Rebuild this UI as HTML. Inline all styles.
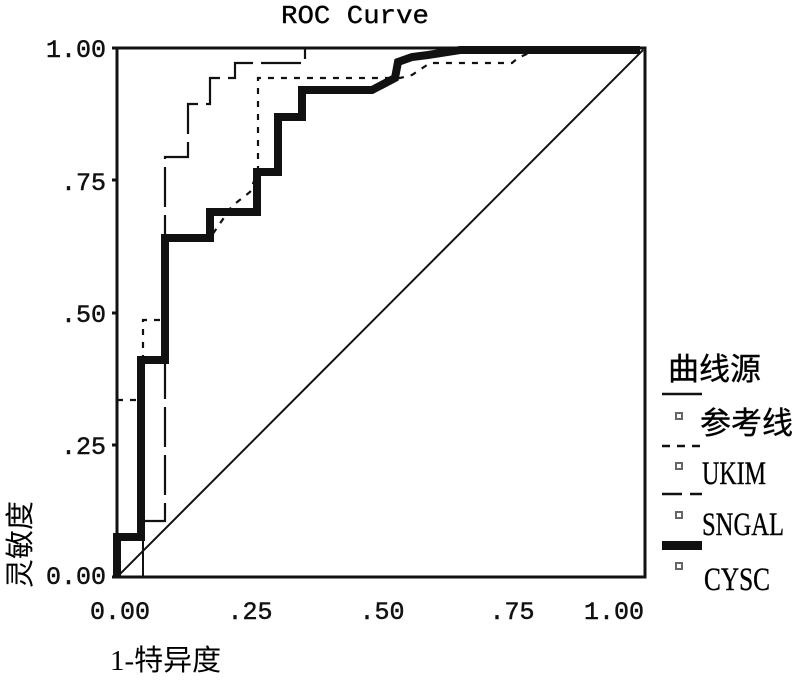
<!DOCTYPE html>
<html><head><meta charset="utf-8"><style>html,body{margin:0;padding:0;background:#fff}</style></head>
<body>
<svg width="797" height="676" viewBox="0 0 797 676" xmlns="http://www.w3.org/2000/svg" font-family="Liberation Serif, 'Noto Serif CJK SC', serif">
<rect width="797" height="676" fill="#fff"/>
<text x="355" y="23" font-size="26" text-anchor="middle" font-family="Liberation Mono, monospace" textLength="148" lengthAdjust="spacingAndGlyphs" stroke="#111" stroke-width="0.4">ROC Curve</text>
<rect x="117" y="48" width="528" height="529" fill="none" stroke="#111" stroke-width="3"/>
<g stroke="#111" stroke-width="3">
<line x1="112" y1="48" x2="117" y2="48"/><line x1="112" y1="180" x2="117" y2="180"/><line x1="112" y1="313" x2="117" y2="313"/><line x1="112" y1="445" x2="117" y2="445"/><line x1="112" y1="577" x2="117" y2="577"/>
</g>
<g font-family="Liberation Mono, monospace" font-size="25" fill="#111" stroke="#111" stroke-width="0.5">
<text x="106" y="57" text-anchor="end">1.00</text>
<text x="106" y="190" text-anchor="end">.75</text>
<text x="106" y="322" text-anchor="end">.50</text>
<text x="106" y="454" text-anchor="end">.25</text>
<text x="106" y="584" text-anchor="end">0.00</text>
<text x="120" y="619" text-anchor="middle">0.00</text>
<text x="250" y="619" text-anchor="middle">.25</text>
<text x="382" y="619" text-anchor="middle">.50</text>
<text x="512" y="619" text-anchor="middle">.75</text>
<text x="614" y="619" text-anchor="middle">1.00</text>
</g>
<text x="110" y="670" font-size="29" font-family="Liberation Serif, 'Noto Sans CJK SC', sans-serif">1-特异度</text>
<text transform="translate(30,588) rotate(-90)" font-size="29" font-family="Liberation Serif, 'Noto Sans CJK SC', sans-serif">灵敏度</text>
<line x1="117" y1="577" x2="643" y2="50" stroke="#111" stroke-width="2"/>
<polyline points="117,537 143,537 143,577" fill="none" stroke="#111" stroke-width="2"/>
<polyline points="117,400 143,400 143,320 165,320 165,238 210,238 232,206 250,192 258,170 258,78 400,78 412,75 430,63 512,63 518,58 540,48" fill="none" stroke="#111" stroke-width="2.2" stroke-dasharray="6,7"/>
<polyline points="143,521 165,521 165,157 188,157 188,104 210,104 210,78 235,78 235,63 305,63 305,48" fill="none" stroke="#111" stroke-width="2.2" stroke-dasharray="40,8"/>
<polyline points="117,577 117,537 141,537 141,360 165,360 165,238 210,238 210,212 257,212 257,172 278,172 278,117 302,117 302,90 372,90 395,78 398,62 412,57 428,55 460,50 640,50" fill="none" stroke="#111" stroke-width="8" stroke-linejoin="miter"/>
<text x="668" y="380" font-size="31" font-family="Liberation Serif, 'Noto Sans CJK SC', sans-serif" stroke="#111" stroke-width="0.4">曲线源</text>
<line x1="662" y1="394" x2="702" y2="394" stroke="#111" stroke-width="2.5"/>
<line x1="662" y1="446" x2="702" y2="446" stroke="#111" stroke-width="2.5" stroke-dasharray="8,7"/>
<line x1="662" y1="494" x2="702" y2="494" stroke="#111" stroke-width="2.5" stroke-dasharray="20,8"/>
<rect x="662" y="541" width="40" height="9" fill="#111"/>
<g fill="none" stroke="#666" stroke-width="2">
<rect x="676" y="413" width="6" height="6"/><rect x="676" y="463" width="6" height="6"/><rect x="676" y="512" width="6" height="6"/><rect x="676" y="563" width="6" height="6"/>
</g>
<text x="700" y="434" font-size="31" font-family="Liberation Serif, 'Noto Sans CJK SC', sans-serif" stroke="#111" stroke-width="0.4">参考线</text>
<g font-size="33" stroke="#111" stroke-width="0.4">
<text x="702" y="484" textLength="64" lengthAdjust="spacingAndGlyphs">UKIM</text>
<text x="702" y="535" textLength="82" lengthAdjust="spacingAndGlyphs">SNGAL</text>
<text x="704" y="590" textLength="66" lengthAdjust="spacingAndGlyphs">CYSC</text>
</g>
</svg>
</body></html>
